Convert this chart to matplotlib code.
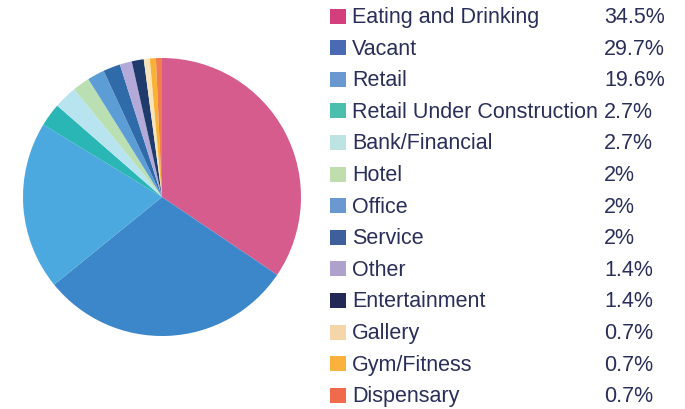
# Pie chart of ground floor uses with a two-column legend
import matplotlib.pyplot as plt
from matplotlib.patches import Rectangle

# Data
labels = ['Eating and Drinking', 'Vacant', 'Retail', 'Retail Under Construction',
          'Bank/Financial', 'Hotel', 'Office', 'Service', 'Other',
          'Entertainment', 'Gallery', 'Gym/Fitness', 'Dispensary']
shares = [34.5, 29.7, 19.6, 2.7, 2.7, 2, 2, 2, 1.4, 1.4, 0.7, 0.7, 0.7]
pct_labels = ['34.5%', '29.7%', '19.6%', '2.7%', '2.7%', '2%', '2%', '2%',
              '1.4%', '1.4%', '0.7%', '0.7%', '0.7%']

# Colours: softer ones in the pie, stronger ones in the legend
pie_colors = ['#D65C8E', '#3B87C9', '#4CA9DF', '#2AB6B4', '#B8E4EF', '#BADFB3',
              '#5C9DD6', '#2F6BA9', '#B3AAD9', '#1F3B6B', '#F7E4BB', '#F9B234',
              '#F07D4B']
key_colors = ['#D23F7C', '#4A6BB3', '#6A98D0', '#4ABFAD', '#BDE3E3', '#BFDDAD',
              '#6A98D0', '#3F5F9C', '#AEA2CC', '#222957', '#F5D6A8', '#F9B23D',
              '#F06B4C']
text_color = '#2A2F5A'

W, H = 685, 409
fig = plt.figure(figsize=(W / 100, H / 100), dpi=100)

# Pie
cx, cy, r = 162, 197, 139
ax = fig.add_axes([(cx - r) / W, (H - cy - r) / H, 2 * r / W, 2 * r / H])
ax.pie(shares, colors=pie_colors, startangle=90, counterclock=False,
       radius=1, wedgeprops=dict(linewidth=0))
ax.set_xlim(-1, 1)
ax.set_ylim(-1, 1)
ax.axis('off')

# Legend drawn in pixel coordinates
lax = fig.add_axes([0, 0, 1, 1])
lax.set_xlim(0, W)
lax.set_ylim(H, 0)
lax.axis('off')

y0, dy = 17.5, 31.6
for i, (name, pct) in enumerate(zip(labels, pct_labels)):
    y = y0 + i * dy
    lax.add_patch(Rectangle((330, y - 9), 16, 15, color=key_colors[i], linewidth=0))
    lax.text(352, y, name, fontsize=15.5, family='Liberation Sans',
             color=text_color, va='center', ha='left')
    lax.text(604, y, pct, fontsize=15.5, family='Liberation Sans',
             color=text_color, va='center', ha='left')

fig.savefig('out.png', dpi=100)
